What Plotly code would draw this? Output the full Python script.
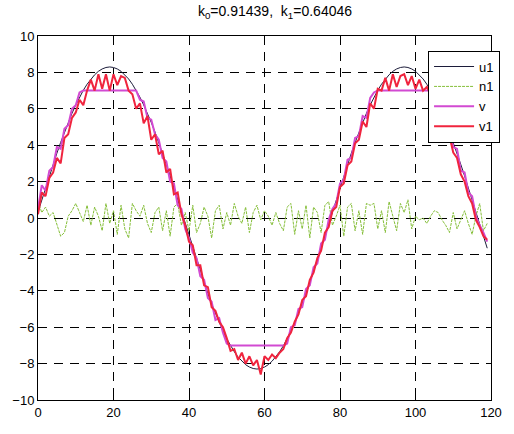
import plotly.graph_objects as go

x = list(range(120))

u1 = [0.33, 1.00, 1.66, 2.31, 2.94, 3.56, 4.15, 4.72, 5.25, 5.75,
      6.21, 6.64, 7.02, 7.35, 7.64, 7.87, 8.06, 8.19, 8.27, 8.30,
      8.27, 8.19, 8.06, 7.87, 7.64, 7.35, 7.02, 6.64, 6.21, 5.75,
      5.25, 4.72, 4.15, 3.56, 2.94, 2.31, 1.66, 1.00, 0.33, -0.33,
      -1.00, -1.66, -2.31, -2.94, -3.56, -4.15, -4.72, -5.25, -5.75, -6.21,
      -6.64, -7.02, -7.35, -7.64, -7.87, -8.06, -8.19, -8.27, -8.30, -8.27,
      -8.19, -8.06, -7.87, -7.64, -7.35, -7.02, -6.64, -6.21, -5.75, -5.25,
      -4.72, -4.15, -3.56, -2.94, -2.31, -1.66, -1.00, -0.33, 0.33, 1.00,
      1.66, 2.31, 2.94, 3.56, 4.15, 4.72, 5.25, 5.75, 6.21, 6.64,
      7.02, 7.35, 7.64, 7.87, 8.06, 8.19, 8.27, 8.30, 8.27, 8.19,
      8.06, 7.87, 7.64, 7.35, 7.02, 6.64, 6.21, 5.75, 5.25, 4.72,
      4.15, 3.56, 2.94, 2.31, 1.66, 1.00, 0.33, -0.33, -1.00, -1.66]

n1 = [0.9, 0.3, 0.6, 0.1, 0.3, -0.4, -1.0, -0.8, 0.1, 0.4,
      0.8, 0.3, -0.2, 0.7, -0.4, 0.6, 0.1, -0.7, 0.8, -0.3,
      0.4, -0.9, 0.7, -0.6, -1.1, 0.8, 0.4, 0.1, 0.7, -0.3,
      -0.8, 0.3, 0.6, -0.7, 0.4, -1.0, 0.6, 0.8, -0.4, 0.3,
      -0.7, 0.7, -0.8, -0.3, 0.6, 0.1, -1.1, 0.4, 0.7, -0.6,
      0.3, -0.4, 0.8, 0.1, -0.3, 0.6, -0.8, 0.3, 0.7, -0.1,
      0.4, 0.1, -0.4, 0.3, -0.3, -0.7, 0.6, 0.8, -0.9, 0.4,
      -0.6, 0.7, -1.1, 0.6, 0.3, -0.8, 0.7, 0.9, -0.4, 0.1,
      0.7, -1.0, 0.6, 0.8, -0.7, 0.4, -0.9, 0.8, 0.7, 0.8,
      -0.6, 0.4, -0.8, 0.9, 0.1, -0.7, 0.8, 0.3, 1.0, -0.6,
      0.1, -0.1, 0.0, -0.3, 0.1, 0.4, 0.3, -0.1, -0.4, -0.8,
      0.3, -0.6, -0.1, 0.4, -0.3, -0.9, 0.1, 0.8, -0.7, -0.3]

v = [0.5, 1.8, 1.5, 2.6, 2.8, 3.9, 3.8, 4.9, 5.1, 6.0,
     6.2, 6.9, 7.0, 7.0, 7.0, 7.0, 7.0, 7.0, 7.0, 7.0,
     7.0, 7.0, 7.0, 7.0, 7.0, 7.0, 7.0, 6.5, 6.4, 5.5,
     5.4, 4.6, 4.3, 3.3, 3.1, 2.0, 1.9, 0.7, 0.5, -0.6,
     -1.1, -1.9, -2.2, -3.2, -3.4, -4.4, -4.6, -5.6, -5.5, -6.3,
     -6.9, -7.0, -7.0, -7.0, -7.0, -7.0, -7.0, -7.0, -7.0, -7.0,
     -7.0, -7.0, -7.0, -7.0, -7.0, -7.0, -6.9, -6.0, -5.9, -5.0,
     -4.9, -3.9, -3.7, -2.7, -2.5, -1.4, -1.2, -0.1, 0.5, 0.8,
     1.9, 2.1, 3.2, 3.3, 4.4, 4.5, 5.6, 5.5, 6.6, 6.9,
     7.0, 7.0, 7.0, 7.0, 7.0, 7.0, 7.0, 7.0, 7.0, 7.0,
     7.0, 7.0, 7.0, 7.0, 7.0, 6.8, 6.0, 5.9, 5.0, 4.9,
     3.9, 3.8, 2.6, 2.5, 1.4, 1.2, 0.1, -0.4, -0.8, -1.3]

v1 = [0.2, 1.4, 1.2, 2.2, 2.5, 3.3, 3.0, 4.4, 4.6, 5.5,
      5.8, 6.5, 6.2, 7.0, 7.6, 7.0, 7.9, 7.1, 7.9, 7.0,
      7.9, 7.3, 7.8, 7.7, 7.0, 6.8, 6.0, 6.3, 5.2, 5.6,
      4.3, 4.6, 3.5, 3.7, 2.5, 2.7, 1.3, 1.4, 0.2, -0.4,
      -1.3, -1.5, -2.6, -2.6, -3.7, -3.8, -4.9, -5.1, -5.7, -6.0,
      -6.6, -7.3, -7.2, -7.8, -7.4, -8.0, -7.6, -8.1, -7.8, -8.6,
      -7.6, -7.8, -7.5, -7.7, -7.4, -7.2, -6.6, -6.3, -5.7, -5.3,
      -4.5, -4.3, -3.4, -3.0, -2.2, -1.8, -0.8, -0.5, 0.4, 0.6,
      1.7, 1.9, 2.9, 3.1, 4.1, 4.3, 5.3, 5.0, 6.3, 6.0,
      7.1, 7.0, 7.7, 7.0, 7.9, 7.2, 7.8, 7.9, 7.3, 7.8,
      7.1, 7.6, 7.0, 7.2, 6.8, 6.4, 5.8, 5.5, 4.8, 4.5,
      3.6, 3.3, 2.4, 2.0, 1.2, 0.8, -0.1, -0.5, -1.0, -1.2]

x_ticks = [0, 20, 40, 60, 80, 100, 120]
y_ticks = [-10, -8, -6, -4, -2, 0, 2, 4, 6, 8, 10]
title_text = "k<sub>0</sub>=0.91439,  k<sub>1</sub>=0.64046"

FONT = "Liberation Sans, Arial, sans-serif"

fig = go.Figure()
fig.add_trace(go.Scatter(x=x, y=u1, name="u1", mode="lines",
                         line=dict(color="#1c1c3a", width=1)))
fig.add_trace(go.Scatter(x=x, y=n1, name="n1", mode="lines",
                         line=dict(color="#86bf3a", width=1, dash="3px,1px")))
fig.add_trace(go.Scatter(x=x, y=v, name="v", mode="lines",
                         line=dict(color="#d24ad2", width=2)))
fig.add_trace(go.Scatter(x=x, y=v1, name="v1", mode="lines",
                         line=dict(color="#f0243e", width=2)))

axis_common = dict(
    showline=True, linecolor="black", linewidth=1, mirror=True,
    ticks="inside", ticklen=4, tickcolor="black",
    showgrid=True, gridcolor="black", gridwidth=1, griddash="9px,7px",
    zeroline=False, tickfont=dict(family=FONT, size=13, color="black"),
)

fig.update_layout(
    width=514, height=434,
    margin=dict(l=34, r=14, t=36, b=34),
    paper_bgcolor="white", plot_bgcolor="white",
    title=dict(text=title_text, x=0.535, xanchor="center", y=0.985, yanchor="top",
               font=dict(family=FONT, size=14, color="black")),
    xaxis=dict(range=[0, 120], tickvals=x_ticks, **axis_common),
    yaxis=dict(range=[-10, 10], tickvals=y_ticks, **axis_common),
    legend=dict(x=1.02, y=0.96, xanchor="right", yanchor="top",
                bgcolor="white", bordercolor="black", borderwidth=1,
                font=dict(family=FONT, size=13, color="black"),
                tracegroupgap=0, itemwidth=40),
    showlegend=True,
)

fig.write_html("out.html")
